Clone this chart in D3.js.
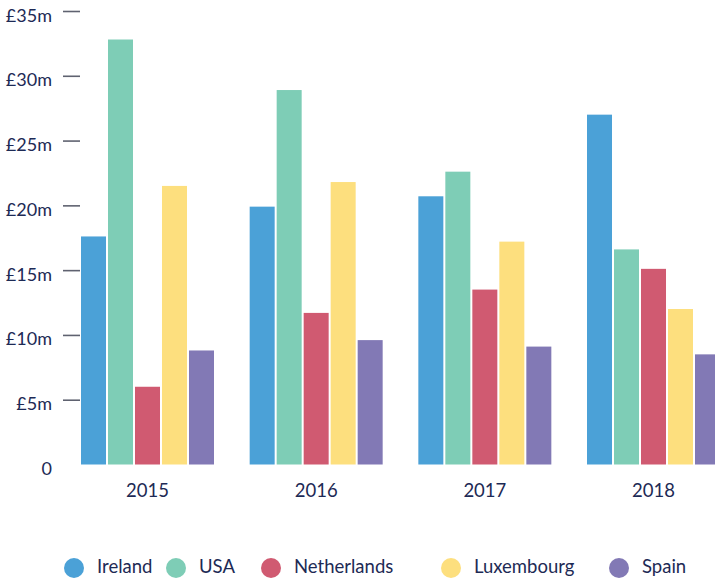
<!DOCTYPE html>
<html>
<head>
<meta charset="utf-8">
<script src="https://cdn.jsdelivr.net/npm/d3@7"></script>
<style>
  html, body { margin: 0; padding: 0; background: #ffffff; }
  svg { display: block; }
  text { font-family: Lato, "Open Sans", sans-serif; fill: #1d2a55; }
</style>
</head>
<body>
<svg id="chart" width="715" height="579"></svg>
<script>
// ---- data ----
const years = ["2015", "2016", "2017", "2018"];
const countries = ["Ireland", "USA", "Netherlands", "Luxembourg", "Spain"];
const ireland     = [17.6, 19.9, 20.7, 27.0];
const usa         = [32.8, 28.9, 22.6, 16.6];
const netherlands = [6.0, 11.7, 13.5, 15.1];
const luxembourg  = [21.5, 21.8, 17.2, 12.0];
const spain       = [8.8, 9.6, 9.1, 8.5];
const yTickValues = [0, 5, 10, 15, 20, 25, 30, 35];
const yTickLabels = ["0", "£5m", "£10m", "£15m", "£20m", "£25m", "£30m", "£35m"];
const colors = ["#4ba1d7", "#7ecdb6", "#d05a71", "#fddf7e", "#8279b5"];

const seriesValues = [ireland, usa, netherlands, luxembourg, spain];
const rows = [];
years.forEach((yr, i) => {
  countries.forEach((c, j) => rows.push({ year: yr, country: c, value: seriesValues[j][i] }));
});

// ---- layout ----
const svg = d3.select("#chart");
const y = d3.scaleLinear().domain([0, 35]).range([464.5, 11]);
const x0 = d3.scaleBand().domain(years).range([81, 720]).paddingInner(0.2115).paddingOuter(0);
const x1 = d3.scaleBand().domain(countries).range([0, x0.bandwidth()]).paddingInner(2 / 27).paddingOuter(0);
const color = d3.scaleOrdinal().domain(countries).range(colors);

// y axis: tick marks (no domain line)
const yAxis = d3.axisLeft(y)
  .tickValues(yTickValues.filter(v => v > 0))
  .tickSize(17)
  .tickFormat("");
const yg = svg.append("g").attr("transform", "translate(80,0)").call(yAxis);
yg.select(".domain").remove();
yg.selectAll(".tick line").attr("stroke", "#5f6270").attr("stroke-width", 1.6);

// y labels
svg.append("g").selectAll("text")
  .data(yTickValues)
  .join("text")
  .attr("x", 52)
  .attr("y", d => y(d) + 6)
  .attr("text-anchor", "end")
  .attr("dominant-baseline", "middle")
  .attr("font-size", 18)
  .text((d, i) => yTickLabels[i]);

// bars
svg.append("g").selectAll("rect")
  .data(rows)
  .join("rect")
  .attr("x", d => x0(d.year) + x1(d.country))
  .attr("width", x1.bandwidth())
  .attr("y", d => y(d.value))
  .attr("height", d => y(0) - y(d.value))
  .attr("fill", d => color(d.country));

// x labels
const xAxis = d3.axisBottom(x0).tickSize(0).tickPadding(0);
const xg = svg.append("g").attr("transform", "translate(0,482)").call(xAxis);
xg.select(".domain").remove();
xg.selectAll(".tick text")
  .attr("font-size", 18.5)
  .attr("font-family", "Lato, sans-serif")
  .attr("fill", "#1d2a55")
  .attr("dy", "0.8em");

// legend
const legendX = [74, 176, 271, 451, 619];
const lg = svg.append("g").selectAll("g")
  .data(countries)
  .join("g")
  .attr("transform", (d, i) => `translate(${legendX[i]},568)`);
lg.append("circle").attr("r", 10).attr("fill", d => color(d));
lg.append("text")
  .attr("x", 23)
  .attr("y", 0)
  .attr("dominant-baseline", "middle")
  .attr("font-size", 18.5)
  .text(d => d);
</script>
</body>
</html>
